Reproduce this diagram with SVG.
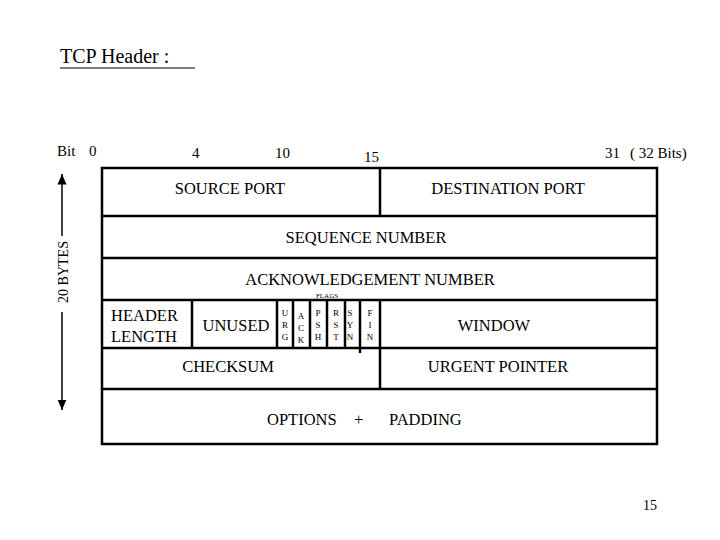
<svg xmlns="http://www.w3.org/2000/svg" width="720" height="540" viewBox="0 0 720 540" font-family="'Liberation Serif','Times New Roman',serif">
<defs><marker id="ah" markerWidth="8" markerHeight="8" refX="7" refY="4" orient="auto"><path d="M0,1 L7,4 L0,7 Z" fill="#000"/></marker></defs>
<style>text{font-family:'Liberation Serif','Times New Roman',serif;fill:#000}.t{font-size:16.5px;text-anchor:middle}.f{font-size:9px;text-anchor:middle}.b{fill:none;stroke:#000;stroke-width:2.5}.l{stroke:#000;stroke-width:2.5}</style>
<rect width="720" height="540" fill="#fff"/>
<text x="60" y="63" font-size="20">TCP Header :</text>
<line x1="60" y1="68" x2="195" y2="68" stroke="#000" stroke-width="1.2"/>
<g font-size="15"><text x="57" y="156">Bit</text><text x="89" y="156">0</text><text x="192" y="158">4</text><text x="275" y="158">10</text><text x="364" y="162">15</text><text x="605" y="158">31</text><text x="630" y="158">( 32 Bits)</text></g>
<g id="bytes"><g class="connectors"><line x1="62" y1="236" x2="62" y2="174" stroke="#000" stroke-width="1.5" marker-end="url(#ah)"/><line x1="62" y1="312" x2="62" y2="410" stroke="#000" stroke-width="1.5" marker-end="url(#ah)"/></g>
<text transform="translate(68,272) rotate(-90)" font-size="14" text-anchor="middle">20 BYTES</text></g>
<g id="box"><rect class="b" x="102" y="168" width="555" height="276"/>
<line class="l" x1="102" y1="216" x2="657" y2="216"/><line class="l" x1="102" y1="258" x2="657" y2="258"/><line class="l" x1="102" y1="300" x2="657" y2="300"/><line class="l" x1="102" y1="348" x2="657" y2="348"/><line class="l" x1="102" y1="389" x2="657" y2="389"/>
<line class="l" x1="380" y1="168" x2="380" y2="216"/><line class="l" x1="380" y1="300" x2="380" y2="389"/>
<line class="l" x1="192" y1="300" x2="192" y2="348"/><line class="l" x1="277" y1="300" x2="277" y2="348"/><line class="l" x1="293" y1="300" x2="293" y2="348"/><line class="l" x1="310" y1="300" x2="310" y2="348"/><line class="l" x1="327" y1="300" x2="327" y2="348"/><line class="l" x1="345" y1="300" x2="345" y2="348"/><line class="l" x1="360" y1="300" x2="360" y2="353"/></g>
<g id="labels"><text class="t" x="230" y="194">SOURCE PORT</text><text class="t" x="508" y="194">DESTINATION PORT</text>
<text class="t" x="366" y="243">SEQUENCE NUMBER</text><text class="t" x="370" y="285">ACKNOWLEDGEMENT  NUMBER</text>
<text x="111" y="321" font-size="16.5">HEADER</text><text x="111" y="342" font-size="16.5">LENGTH</text>
<text class="t" x="236" y="331">UNUSED</text>
<text x="327" y="298" font-size="7" text-anchor="middle">FLAGS</text>
<g class="f"><text x="285" y="316">U</text><text x="285" y="328">R</text><text x="285" y="340">G</text>
<text x="301" y="319">A</text><text x="301" y="331">C</text><text x="301" y="343">K</text>
<text x="318" y="316">P</text><text x="318" y="328">S</text><text x="318" y="340">H</text>
<text x="336" y="316">R</text><text x="336" y="328">S</text><text x="336" y="340">T</text>
<text x="350" y="316">S</text><text x="350" y="328">Y</text><text x="350" y="340">N</text>
<text x="370" y="316">F</text><text x="370" y="328">I</text><text x="370" y="340">N</text></g>
<text class="t" x="494" y="331">WINDOW</text>
<text class="t" x="228" y="372">CHECKSUM</text><text class="t" x="498" y="372">URGENT POINTER</text>
<text x="267" y="425" font-size="16.5">OPTIONS</text><text x="354" y="425" font-size="16.5">+</text><text x="389" y="425" font-size="16.5">PADDING</text>
<text x="643" y="510" font-size="14">15</text></g>
</svg>
